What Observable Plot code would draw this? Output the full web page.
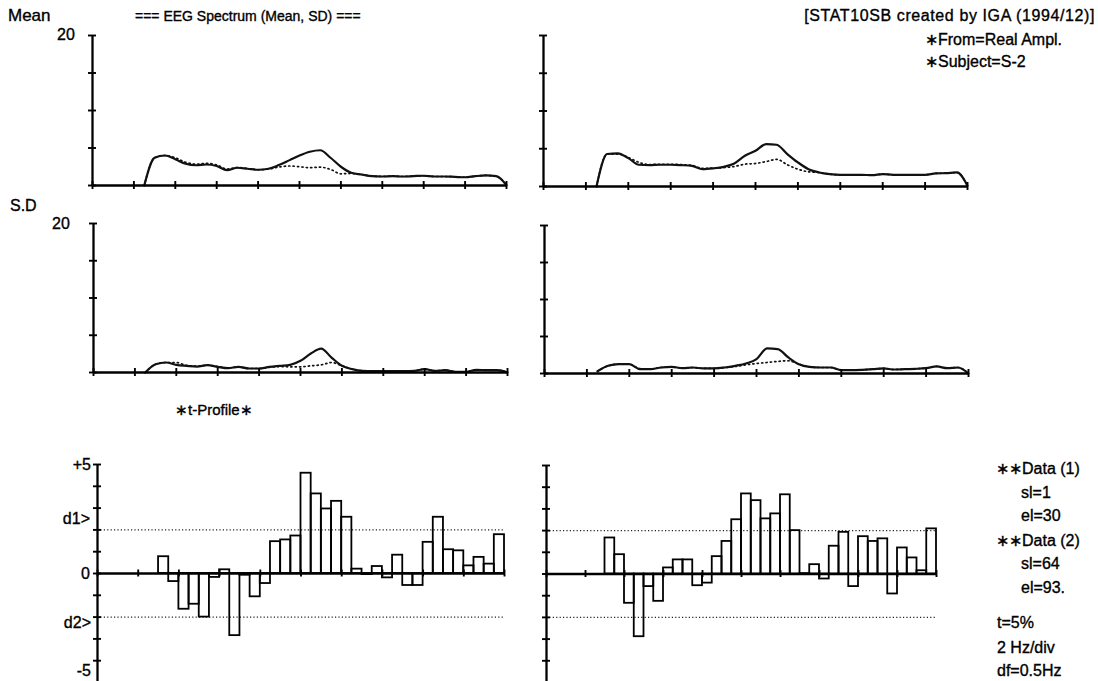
<!DOCTYPE html>
<html>
<head>
<meta charset="utf-8">
<script src="https://cdn.jsdelivr.net/npm/d3@7"></script>
<script src="https://cdn.jsdelivr.net/npm/@observablehq/plot@0.6"></script>
<style>
  html, body { margin: 0; padding: 0; background: #fff; }
  #page { position: relative; width: 1098px; height: 681px; overflow: hidden; background: #fff; }
  #page svg { position: absolute; overflow: visible; }
</style>
</head>
<body>
<div id="page"></div>
<script>
// Frequency grid (Hz), 0.5 Hz steps
const freqs = [2.5, 3, 3.5, 4, 4.5, 5, 5.5, 6, 6.5, 7, 7.5, 8, 8.5, 9, 9.5, 10,
  10.5, 11, 11.5, 12, 12.5, 13, 13.5, 14, 14.5, 15, 15.5, 16, 16.5, 17, 17.5,
  18, 18.5, 19, 19.5, 20];

// Mean amplitude spectra (left / right), Data (1) solid, Data (2) dotted
const meanLeft1 = [0, 3.7, 4.0, 3.5, 2.9, 2.7, 2.8, 2.6, 2.05, 2.37, 2.23, 2.1, 2.23, 2.72, 3.35, 4.0,
  4.5, 4.7, 3.7, 2.5, 1.7, 1.47, 1.25, 1.2, 1.25, 1.2, 1.25, 1.3, 1.2, 1.2, 1.15,
  1.1, 1.25, 1.34, 1.25, 0.05];
const meanLeft2 = [0, 3.7, 4.0, 3.7, 3.1, 2.85, 2.95, 2.75, 2.2, 2.4, 2.25, 2.1, 2.2, 2.45, 2.6, 2.5,
  2.37, 2.45, 2.14, 1.56, 1.6, 1.47, 1.25, 1.2, 1.25, 1.2, 1.25, 1.3, 1.2, 1.2, 1.15,
  1.1, 1.25, 1.34, 1.25, 0.05];
const meanRight1 = [0, 4.3, 4.4, 3.76, 2.88, 2.83, 2.88, 2.88, 2.83, 2.74, 2.3, 2.4, 2.6, 3.05, 4.07, 4.73,
  5.62, 5.53, 4.3, 3.19, 2.3, 1.86, 1.64, 1.55, 1.55, 1.55, 1.5, 1.64, 1.55, 1.55, 1.55,
  1.55, 1.73, 1.77, 1.86, 0.1];
const meanRight2 = [0, 4.3, 4.3, 3.85, 3.2, 2.9, 2.95, 2.95, 2.9, 2.8, 2.4, 2.45, 2.5, 2.65, 2.96, 3.05,
  3.3, 3.6, 2.88, 2.3, 1.95, 1.86, 1.64, 1.55, 1.55, 1.55, 1.5, 1.64, 1.55, 1.55, 1.55,
  1.55, 1.73, 1.77, 1.86, 0.1];

// Standard deviation spectra
const sdLeft1 = [0, 1.1, 1.34, 1.03, 0.9, 0.8, 0.98, 0.76, 0.58, 0.76, 0.54, 0.54, 0.76, 0.9, 1.03, 1.57,
  2.55, 3.2, 2.0, 0.9, 0.45, 0.22, 0.18, 0.18, 0.18, 0.18, 0.22, 0.45, 0.22, 0.31, 0.1,
  0.1, 0.36, 0.31, 0.31, 0];
const sdLeft2 = [0, 1.1, 1.34, 1.34, 0.95, 0.85, 0.98, 0.8, 0.6, 0.76, 0.54, 0.54, 0.7, 0.8, 0.76, 0.76,
  0.9, 1.03, 1.34, 0.9, 0.45, 0.22, 0.18, 0.18, 0.18, 0.18, 0.22, 0.45, 0.22, 0.31, 0.1,
  0.1, 0.36, 0.31, 0.31, 0];
const sdRight1 = [0.3, 1.04, 1.26, 1.26, 0.59, 0.59, 0.81, 0.9, 0.72, 0.81, 0.68, 0.68, 0.81, 1.04, 1.35, 1.94,
  3.39, 3.3, 2.17, 1.26, 0.9, 0.81, 0.81, 0.45, 0.45, 0.5, 0.59, 0.68, 0.54, 0.59, 0.63,
  0.72, 0.95, 0.72, 0.81, 0];
const sdRight2 = [0.3, 1.04, 1.26, 1.26, 0.65, 0.62, 0.81, 0.9, 0.72, 0.81, 0.68, 0.68, 0.8, 0.95, 1.17, 1.35,
  1.49, 1.63, 1.72, 1.26, 0.9, 0.81, 0.81, 0.45, 0.45, 0.5, 0.59, 0.68, 0.54, 0.59, 0.63,
  0.72, 0.95, 0.72, 0.81, 0];

// t-profile: one bar per 0.5 Hz bin starting at 3.0 Hz
const binStarts = freqs.slice(1, 35);
const tLeft = [0.77, -0.37, -1.64, -1.41, -2.0, -0.18, 0.17, -2.85, -0.08, -1.07, -0.46, 1.46, 1.54, 1.72,
  4.6, 3.65, 2.96, 3.31, 2.58, 0.2, -0.05, 0.32, -0.2, 0.84, -0.55, -0.55, 1.43, 2.58,
  1.09, 1.04, 0.35, 0.74, 0.43, 1.78];
const tRight = [1.66, 0.89, -1.35, -2.89, -0.58, -1.26, 0.28, 0.65, 0.65, -0.54, -0.42, 0.8, 1.5, 2.5,
  3.69, 3.38, 2.54, 2.77, 3.65, 2.0, 0.02, 0.43, -0.23, 1.28, 1.92, -0.58, 1.72, 1.5,
  1.62, -0.92, 1.2, 0.74, 0.15, 2.08];

// Critical t levels (5%)
const tCritical = [2.0, -2.0];

// Axis ticks
const freqTicks = [0, 2, 4, 6, 8, 10, 12, 14, 16, 18, 20];
const ampTicks = [0, 5, 10, 15, 20];
const tTicks = [-5, -4, -3, -2, -1, 0, 1, 2, 3, 4, 5];

const page = document.getElementById("page");
const M = 12; // margin around each frame

const series = (f, v) => f.map((x, i) => ({f: x, v: v[i]}));

// Spectrum panel: solid + dotted curves on 0..20 axes with cross ticks
function spectrumPanel({left, top, w, h, solid, dotted}) {
  const chart = Plot.plot({
    width: w + 2 * M, height: h + 2 * M, margin: M,
    x: {domain: [0, 20], axis: null},
    y: {domain: [0, 20], axis: null},
    style: {background: "transparent", overflow: "visible"},
    marks: [
      Plot.line(series(freqs, dotted), {x: "f", y: "v", stroke: "#111", strokeWidth: 1.7,
        strokeDasharray: "1.2,3.2", strokeLinecap: "round", curve: "monotone-x"}),
      Plot.line(series(freqs, solid), {x: "f", y: "v", stroke: "#111", strokeWidth: 2.2,
        strokeLinejoin: "round", curve: "monotone-x"}),
      Plot.ruleX([0], {y1: 0, y2: 20, stroke: "#000", strokeWidth: 2.3}),
      Plot.ruleY([0], {x1: 0, x2: 20, stroke: "#000", strokeWidth: 2.3}),
      Plot.ruleY(ampTicks, {y: d => d, x1: 0, x2: 0, insetLeft: -4, insetRight: -4, stroke: "#000", strokeWidth: 1.9}),
      Plot.ruleX(freqTicks, {x: d => d, y1: 0, y2: 0, insetTop: -4, insetBottom: -4, stroke: "#000", strokeWidth: 1.9})
    ]
  });
  chart.style.left = `${left - M}px`;
  chart.style.top = `${top - M}px`;
  page.appendChild(chart);
}

// t-profile panel: outlined bars from zero, dotted critical lines
function tPanel({left, top, w, h, values}) {
  const bars = binStarts.map((f, i) => ({f0: f, f1: f + 0.5, t: values[i]}));
  const chart = Plot.plot({
    width: w + 2 * M, height: h + 2 * M, margin: M,
    x: {domain: [0, 20], axis: null},
    y: {domain: [-5, 5], axis: null},
    style: {background: "transparent", overflow: "visible"},
    marks: [
      Plot.ruleY(tCritical, {y: d => d, x1: 0, x2: 20, stroke: "#222", strokeWidth: 1.4,
        strokeDasharray: "1.2,2.2"}),
      Plot.rect(bars, {x1: "f0", x2: "f1", y1: 0, y2: "t", fill: "none", stroke: "#000",
        strokeWidth: 1.8}),
      Plot.ruleX([0], {y1: -5, y2: 5, stroke: "#000", strokeWidth: 2.3}),
      Plot.ruleY([0], {x1: 0, x2: 20, stroke: "#000", strokeWidth: 2.3}),
      Plot.ruleY(tTicks, {y: d => d, x1: 0, x2: 0, insetLeft: -4, insetRight: -4, stroke: "#000", strokeWidth: 1.9}),
      Plot.ruleX(freqTicks, {x: d => d, y1: 0, y2: 0, insetTop: -3.5, insetBottom: -3.5, stroke: "#000", strokeWidth: 1.9})
    ]
  });
  chart.style.left = `${left - M}px`;
  chart.style.top = `${top - M}px`;
  page.appendChild(chart);
}

spectrumPanel({left: 92, top: 35, w: 414, h: 150, solid: meanLeft1, dotted: meanLeft2});
spectrumPanel({left: 543, top: 35, w: 424, h: 151, solid: meanRight1, dotted: meanRight2});
spectrumPanel({left: 93, top: 223, w: 414, h: 149, solid: sdLeft1, dotted: sdLeft2});
spectrumPanel({left: 544, top: 225, w: 424, h: 148, solid: sdRight1, dotted: sdRight2});
tPanel({left: 97, top: 464, w: 407, h: 218, values: tLeft});
tPanel({left: 546, top: 465, w: 390, h: 217, values: tRight});

// Annotation text layer
const labels = [
  {x: 8, y: 21, s: 17, t: "Mean"},
  {x: 57, y: 40, s: 16, t: "20"},
  {x: 135, y: 21, s: 14, t: "=== EEG Spectrum (Mean, SD) ==="},
  {x: 1095, y: 21, s: 16, t: "[STAT10SB created by IGA (1994/12)]", a: "end", ls: 0.6},
  {x: 925, y: 45, s: 16, t: "∗From=Real Ampl."},
  {x: 925, y: 67, s: 16, t: "∗Subject=S-2"},
  {x: 10, y: 211, s: 16, t: "S.D"},
  {x: 52, y: 229, s: 16, t: "20"},
  {x: 175, y: 415, s: 15, t: "∗t-Profile∗"},
  {x: 91, y: 470, s: 16, t: "+5", a: "end"},
  {x: 90, y: 524, s: 16, t: "d1>", a: "end"},
  {x: 90, y: 579, s: 16, t: "0", a: "end"},
  {x: 91, y: 628, s: 16, t: "d2>", a: "end"},
  {x: 91, y: 676, s: 16, t: "-5", a: "end"},
  {x: 996, y: 474, s: 16, t: "∗∗Data (1)"},
  {x: 1021, y: 498, s: 16, t: "sl=1"},
  {x: 1021, y: 521, s: 16, t: "el=30"},
  {x: 996, y: 546, s: 16, t: "∗∗Data (2)"},
  {x: 1021, y: 569, s: 16, t: "sl=64"},
  {x: 1021, y: 593, s: 16, t: "el=93."},
  {x: 997, y: 628, s: 16, t: "t=5%"},
  {x: 997, y: 653, s: 16, t: "2 Hz/div"},
  {x: 997, y: 676, s: 16, t: "df=0.5Hz"}
];

const overlay = d3.select(page).append("svg")
  .attr("width", 1098).attr("height", 681)
  .style("left", "0px").style("top", "0px");
overlay.selectAll("text").data(labels).join("text")
  .attr("x", d => d.x).attr("y", d => d.y)
  .attr("text-anchor", d => d.a || "start")
  .attr("font-family", "'Liberation Sans', Arial, Helvetica, sans-serif")
  .attr("font-size", d => d.s)
  .attr("letter-spacing", d => d.ls || 0)
  .attr("fill", "#000")
  .attr("stroke", "#000")
  .attr("stroke-width", 0.35)
  .text(d => d.t);
</script>
</body>
</html>
